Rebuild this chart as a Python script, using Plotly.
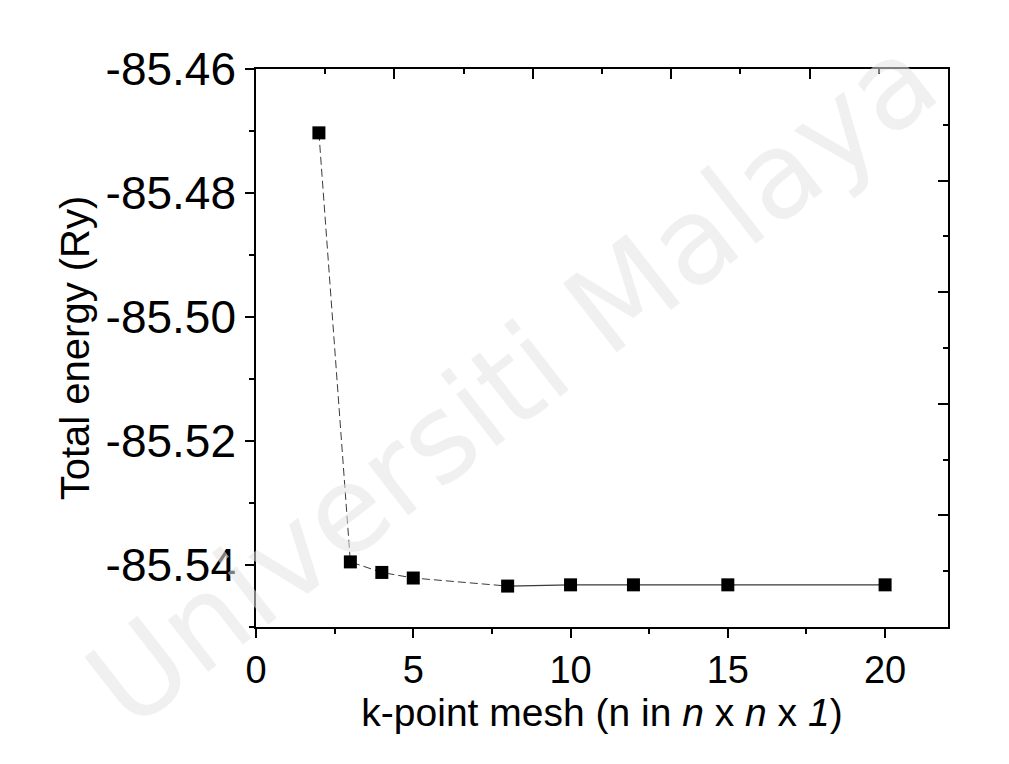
import plotly.graph_objects as go

# k-point convergence of the total energy
kmesh = [2, 3, 4, 5, 8, 10, 12, 15, 20]
energy = [-85.4703, -85.5395, -85.5412, -85.5421, -85.5434, -85.5432, -85.5432, -85.5432, -85.5432]

x_ticks = [0, 5, 10, 15, 20]
y_ticks = [-85.54, -85.52, -85.50, -85.48, -85.46]
y_tick_text = ["-85.54", "-85.52", "-85.50", "-85.48", "-85.46"]

FONT = "Arial, Liberation Sans, sans-serif"
LINE_COL = "#3a3a3a"

fig = go.Figure()

# dashed connector over the steep part, solid over the plateau
fig.add_trace(go.Scatter(x=kmesh[:5], y=energy[:5], mode="lines",
                         line=dict(color=LINE_COL, width=1, dash="8px,4px"),
                         hoverinfo="skip", showlegend=False))
fig.add_trace(go.Scatter(x=kmesh[4:], y=energy[4:], mode="lines",
                         line=dict(color=LINE_COL, width=1.2),
                         hoverinfo="skip", showlegend=False))
fig.add_trace(go.Scatter(x=kmesh, y=energy, mode="markers",
                         marker=dict(symbol="square", size=13, color="black",
                                     line=dict(width=0)),
                         showlegend=False))
# empty trace that activates the mirrored top/right axes
fig.add_trace(go.Scatter(x=[None], y=[None], xaxis="x2", yaxis="y2",
                         showlegend=False, hoverinfo="skip"))

fig.update_layout(
    width=1009, height=764,
    margin=dict(l=256, r=61, t=69, b=137),
    paper_bgcolor="white", plot_bgcolor="white",
    font=dict(family=FONT, color="black"),
    xaxis=dict(
        range=[0, 22], tickvals=x_ticks, ticks="outside", ticklen=9, tickwidth=1.5,
        tickcolor="black", showline=True, linecolor="black", linewidth=1.5,
        showgrid=False, zeroline=False,
        tickfont=dict(size=38, family=FONT),
        minor=dict(dtick=2.5, tick0=0, ticks="outside", ticklen=5, tickwidth=1.5,
                   tickcolor="black", showgrid=False),
        title=dict(text="k-point mesh (n in <i>n</i> x <i>n</i> x <i>1</i>)",
                   font=dict(size=39, family=FONT), standoff=4),
    ),
    yaxis=dict(
        range=[-85.55, -85.46], tickvals=y_ticks, ticktext=y_tick_text,
        ticks="outside", ticklen=9, tickwidth=1.5, tickcolor="black",
        showline=True, linecolor="black", linewidth=1.5,
        showgrid=False, zeroline=False,
        tickfont=dict(size=46, family=FONT),
        minor=dict(dtick=0.01, tick0=-85.46, ticks="outside", ticklen=5, tickwidth=1.5,
                   tickcolor="black", showgrid=False),
        title=dict(text="Total energy (Ry)", font=dict(size=40, family=FONT), standoff=4),
    ),
    xaxis2=dict(
        range=[0, 22], overlaying="x", side="top", anchor="y",
        dtick=4.4, tick0=0, ticks="inside", ticklen=10, tickwidth=1.5,
        tickcolor="black", showticklabels=False, showline=True,
        linecolor="black", linewidth=1.5, showgrid=False, zeroline=False,
        minor=dict(dtick=2.2, tick0=0, ticks="inside", ticklen=5, tickwidth=1.5,
                   tickcolor="black", showgrid=False),
    ),
    yaxis2=dict(
        range=[-85.55, -85.46], overlaying="y", side="right", anchor="x",
        dtick=0.018, tick0=-85.55, ticks="inside", ticklen=10, tickwidth=1.5,
        tickcolor="black", showticklabels=False, showline=True,
        linecolor="black", linewidth=1.5, showgrid=False, zeroline=False,
        minor=dict(dtick=0.009, tick0=-85.55, ticks="inside", ticklen=5, tickwidth=1.5,
                   tickcolor="black", showgrid=False),
    ),
    annotations=[dict(
        text="Universiti Malaya", xref="paper", yref="paper",
        x=0.37, y=0.44, showarrow=False, textangle=-38,
        font=dict(size=120, family="DejaVu Sans", color="rgba(228,228,228,0.55)"),
    )],
)

fig.write_html("out.html")
